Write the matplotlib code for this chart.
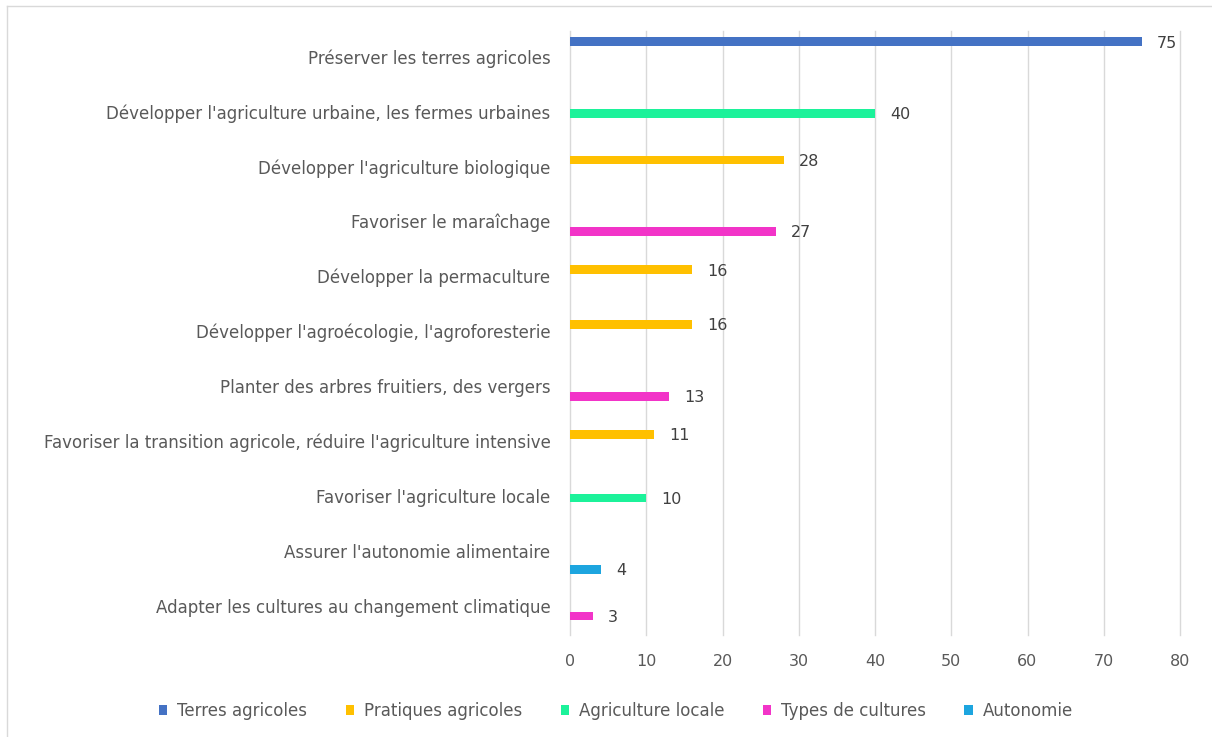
import matplotlib
matplotlib.use("Agg")
import matplotlib.pyplot as plt
from matplotlib.patches import Patch
from matplotlib.lines import Line2D

plt.rcParams['font.family'] = ['DejaVu Sans']

categories = [
    "Préserver les terres agricoles",
    "Développer l'agriculture urbaine, les fermes urbaines",
    "Développer l'agriculture biologique",
    "Favoriser le maraîchage",
    "Développer la permaculture",
    "Développer l'agroécologie, l'agroforesterie",
    "Planter des arbres fruitiers, des vergers",
    "Favoriser la transition agricole, réduire l'agriculture intensive",
    "Favoriser l'agriculture locale",
    "Assurer l'autonomie alimentaire",
    "Adapter les cultures au changement climatique",
]
series_names = ["Terres agricoles", "Pratiques agricoles", "Agriculture locale",
                "Types de cultures", "Autonomie"]
terres = [75, 0, 0, 0, 0, 0, 0, 0, 0, 0, 0]
pratiques = [0, 0, 28, 0, 16, 16, 0, 11, 0, 0, 0]
locale = [0, 40, 0, 0, 0, 0, 0, 0, 10, 0, 0]
types_cult = [0, 0, 0, 27, 0, 0, 13, 0, 0, 0, 3]
autonomie = [0, 0, 0, 0, 0, 0, 0, 0, 0, 4, 0]
xticks = [0, 10, 20, 30, 40, 50, 60, 70, 80]

series_values = [terres, pratiques, locale, types_cult, autonomie]
colors = ["#4472C4", "#FFC000", "#1CF29A", "#F234C8", "#1DA5DF"]
text_color = "#595959"

fig = plt.figure(figsize=(12.12, 7.37), dpi=100)
ax = fig.add_axes([570/1212, 1-635/737, (1180-570)/1212, (635-31)/737])

bar_h = 0.153
n = len(categories)
for si, (vals, col) in enumerate(zip(series_values, colors)):
    ys = [i + (si - 2) * bar_h for i in range(n)]
    ax.barh(ys, vals, height=bar_h, color=col, zorder=3)
    for y, v in zip(ys, vals):
        if v:
            ax.annotate(str(v), xy=(v, y), xytext=(11, -1), textcoords="offset points",
                        va="center", ha="left", fontsize=11.5, color="#404040")

ax.set_xlim(0, 80)
ax.set_ylim(n - 0.5, -0.5)
ax.set_xticks(xticks)
ax.set_yticks(range(n))
ax.set_yticklabels(categories)
ax.tick_params(axis="both", length=0, labelsize=12, labelcolor=text_color)
ax.tick_params(axis="y", pad=14)
ax.tick_params(axis="x", pad=14, labelsize=11.5)
for lbl in ax.get_yticklabels():
    lbl.set_verticalalignment("center")
ax.grid(axis="x", color="#D9D9D9", linewidth=1, zorder=0)
for gl in ax.get_xgridlines():
    gl.set_clip_on(False)
for s in ax.spines.values():
    s.set_visible(False)

handles = [Patch(facecolor=c, edgecolor="none", label=l) for c, l in zip(colors, series_names)]
fig.legend(handles=handles, loc="center", bbox_to_anchor=(616/1212, 1-711/737), ncol=5,
           frameon=False, fontsize=12, handlelength=0.5, handleheight=0.55,
           handletextpad=0.6, columnspacing=2.3, labelcolor=text_color)

# chart area border (left and top edges visible)
fig.add_artist(Line2D([7/1212, 7/1212], [0, 1-6/737], color="#D9D9D9", lw=1, transform=fig.transFigure))
fig.add_artist(Line2D([7/1212, 1], [1-6/737, 1-6/737], color="#D9D9D9", lw=1, transform=fig.transFigure))

fig.savefig("out.png", dpi=100, facecolor="white")
